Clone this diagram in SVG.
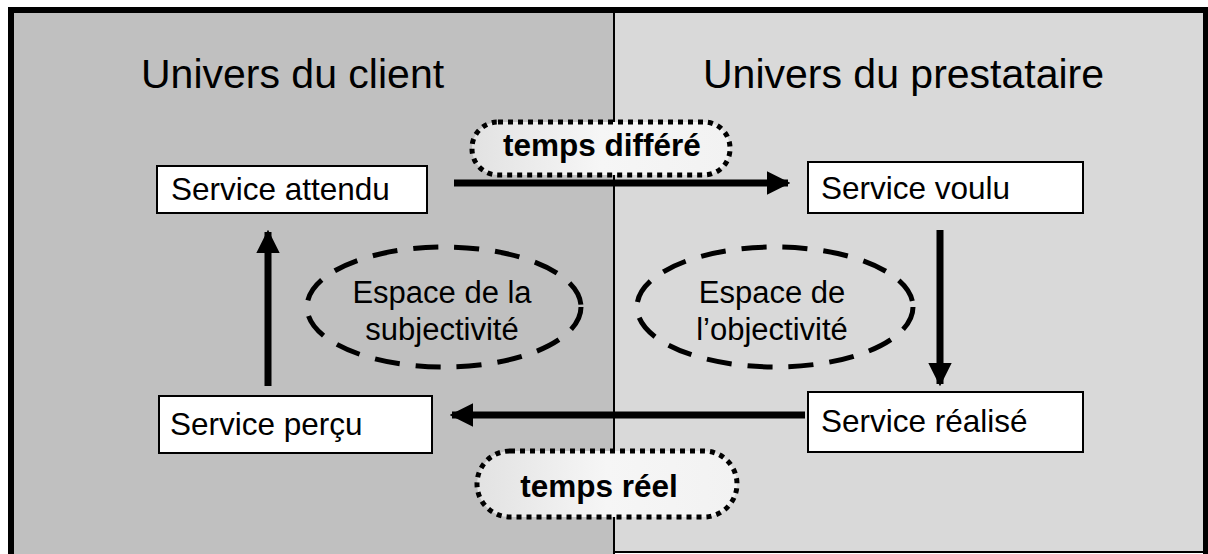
<svg xmlns="http://www.w3.org/2000/svg" width="1208" height="554" viewBox="0 0 1208 554">
<defs>
<linearGradient id="pill" x1="0" y1="0" x2="1" y2="0">
<stop offset="0" stop-color="#e2e2e2"/>
<stop offset="0.5" stop-color="#f6f6f6"/>
<stop offset="1" stop-color="#f2f2f2"/>
</linearGradient>
<marker id="ah" viewBox="0 0 10 10" refX="9" refY="5" markerWidth="3.4" markerHeight="3.4" orient="auto" markerUnits="strokeWidth">
<path d="M0,0 L10,5 L0,10 Z" fill="#000"/>
</marker>
<style>
.title{font-family:"Liberation Sans",Arial,sans-serif;font-size:41px;fill:#000}
.lbl{font-family:"Liberation Sans",Arial,sans-serif;font-size:31.5px;fill:#000}
.ellt{font-family:"Liberation Sans",Arial,sans-serif;font-size:31px;fill:#000}
.bold{font-family:"Liberation Sans",Arial,sans-serif;font-size:31.5px;font-weight:bold;fill:#000}
.box{fill:#fff;stroke:#000;stroke-width:2}
.pill{fill:url(#pill);stroke:#000;stroke-width:5;stroke-dasharray:5 5}
.ell{fill:none;stroke:#000;stroke-width:5;stroke-dasharray:25 16}
.arr{stroke:#000;stroke-width:7;fill:none;marker-end:url(#ah)}
</style>
</defs>
<rect x="0" y="0" width="1208" height="554" fill="#fff"/>
<g id="panels">
<rect x="11" y="10" width="603" height="600" fill="#c0c0c0"/>
<rect x="614" y="13" width="591" height="539" fill="#d9d9d9"/>
<line x1="614" y1="12" x2="614" y2="554" stroke="#000" stroke-width="2"/>
<line x1="614" y1="552" x2="1208" y2="552" stroke="#000" stroke-width="2"/>
<rect x="11" y="10" width="1195" height="600" fill="none" stroke="#000" stroke-width="6"/>
<text class="title" x="141" y="88">Univers du client</text>
<text class="title" x="703" y="88">Univers du prestataire</text>
</g>
<g id="connectors">
<line class="arr" x1="454" y1="183" x2="788" y2="183"/>
<line class="arr" x1="940" y1="230" x2="940" y2="384"/>
<line class="arr" x1="805" y1="415" x2="452" y2="415"/>
<line class="arr" x1="268" y1="386" x2="268" y2="232"/>
</g>
<g id="temps-differe">
<rect class="pill" x="472" y="122" width="258" height="53" rx="26" ry="26"/>
<text class="bold" x="602" y="156" text-anchor="middle">temps différé</text>
</g>
<g id="temps-reel">
<rect class="pill" x="477" y="451" width="260" height="66" rx="33" ry="33"/>
<text class="bold" x="599" y="497" text-anchor="middle">temps réel</text>
</g>
<g id="service-attendu">
<rect class="box" x="157" y="166" width="270" height="47"/>
<text class="lbl" x="171" y="200">Service attendu</text>
</g>
<g id="service-voulu">
<rect class="box" x="808" y="162" width="275" height="51"/>
<text class="lbl" x="821" y="199">Service voulu</text>
</g>
<g id="service-percu">
<rect class="box" x="159" y="396" width="273" height="57"/>
<text class="lbl" x="170" y="435">Service perçu</text>
</g>
<g id="service-realise">
<rect class="box" x="808" y="392" width="275" height="60"/>
<text class="lbl" x="821" y="432">Service réalisé</text>
</g>
<g id="espace-subjectivite">
<ellipse class="ell" cx="444" cy="307" rx="137" ry="60"/>
<text class="ellt" x="442" y="303" text-anchor="middle">Espace de la</text>
<text class="ellt" x="442" y="340" text-anchor="middle">subjectivité</text>
</g>
<g id="espace-objectivite">
<ellipse class="ell" cx="775" cy="307" rx="138" ry="60"/>
<text class="ellt" x="772" y="303" text-anchor="middle">Espace de</text>
<text class="ellt" x="772" y="340" text-anchor="middle">l’objectivité</text>
</g>
</svg>
